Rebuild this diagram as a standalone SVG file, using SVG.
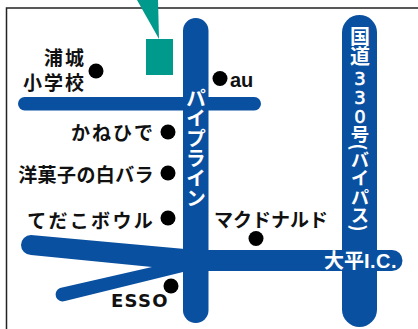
<svg xmlns="http://www.w3.org/2000/svg" width="418" height="329" viewBox="0 0 418 329">
<style>
.t{font-family:"Noto Sans CJK JP","Liberation Sans",sans-serif;font-weight:700;font-size:19px;fill:#111}
.l{font-family:"Liberation Sans",sans-serif;font-weight:700;fill:#111}
.w{font-family:"Noto Sans CJK JP","Liberation Sans",sans-serif;font-weight:700;font-size:20px;fill:#fff}
.n{font-family:"DejaVu Sans",sans-serif;font-weight:400;font-size:18px;fill:#fff;stroke:#fff;stroke-width:.6;text-anchor:middle}
.v{writing-mode:vertical-rl}
.road{fill:#0a50a0}
.dot{fill:#000}
</style>
<rect width="418" height="329" fill="#fff"/>
<path d="M6.500 329V8H418" fill="none" stroke="#222" stroke-width="1.500"/>
<g id="connectors">
<rect class="road" x="18" y="97" width="243" height="13.500" rx="6.700"/>
<path class="road" d="M31 235 L196 250 H392 A10 10 0 0 1 392 271 H208 V272 H183 L65 301 A6.500 6.500 0 0 1 60 288 L152 267 L31 255 A10 10 0 0 1 31 235Z"/>
<rect class="road" x="183" y="18" width="25.500" height="305" rx="12.700"/>
<rect class="road" x="342" y="15" width="35" height="312" rx="17.500"/>
</g>
<g id="destination"><path d="M137 0H158L159 39Z" fill="#009a8c"/><rect x="146" y="39" width="27" height="36" fill="#009a8c"/></g>
<g id="urawa"><circle class="dot" cx="96" cy="71" r="7.500"/><text class="t" x="86" y="65" text-anchor="end" letter-spacing="2">浦城</text><text class="t" x="86" y="90" text-anchor="end" letter-spacing="2">小学校</text></g>
<g id="au"><circle class="dot" cx="220" cy="78.500" r="7.500"/><text class="l" x="230" y="87" font-size="20">au</text></g>
<g id="kanehide"><circle class="dot" cx="168" cy="132" r="7.500"/><text class="t" x="155" y="140" text-anchor="end" letter-spacing="2">かねひで</text></g>
<g id="shirobara"><circle class="dot" cx="168" cy="173" r="7.500"/><text class="t" x="154" y="182" text-anchor="end" letter-spacing=".4">洋菓子の白バラ</text></g>
<g id="tedako"><circle class="dot" cx="168" cy="218" r="7.500"/><text class="t" x="155" y="228" text-anchor="end" letter-spacing="2.300">てだこボウル</text></g>
<g id="esso"><circle class="dot" cx="171" cy="286" r="7.500"/><text x="111" y="307" font-family="DejaVu Sans, sans-serif" font-weight="700" fill="#111" font-size="18" letter-spacing="1.300">ESSO</text></g>
<g id="mcd"><circle class="dot" cx="256" cy="238.500" r="7.500"/><text class="t" x="214" y="227">マクドナルド</text></g>
<g id="pipeline"><text class="w v" x="196" y="88">パイプライン</text></g>
<g id="route330"><text class="w v" x="360" y="26">国道</text><text class="n" x="360" y="85">3</text><text class="n" x="360" y="104">3</text><text class="n" x="360" y="123">0</text><text class="w v" x="360" y="125" style="font-size:18.500px">号(バイパス)</text></g>
<g id="ic"><text class="w" x="324" y="268">大平<tspan font-family="Liberation Sans" font-size="20" letter-spacing=".5">I.C.</tspan></text></g>
</svg>
